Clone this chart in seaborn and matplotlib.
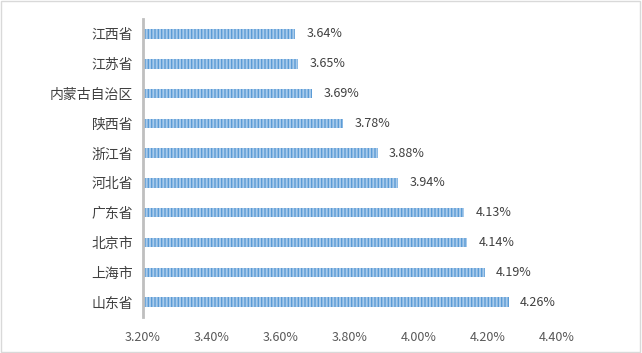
import numpy as np
import pandas as pd
import seaborn as sns
import matplotlib.pyplot as plt
from matplotlib.ticker import FuncFormatter, MultipleLocator
from matplotlib.patches import Rectangle

# =============================================================================
# Data
# =============================================================================

regions = ["江西省", "江苏省", "内蒙古自治区", "陕西省", "浙江省",
           "河北省", "广东省", "北京市", "上海市", "山东省"]
rates = [3.64, 3.65, 3.69, 3.78, 3.88, 3.94, 4.13, 4.14, 4.19, 4.26]

df = pd.DataFrame({"region": regions, "rate": rates})

# =============================================================================
# Style
# =============================================================================

sns.set_style("white")
plt.rcParams["font.family"] = ["Noto Sans CJK SC", "DejaVu Sans"]
plt.rcParams["hatch.linewidth"] = 1.0

bar_face = "#A9CBEB"
bar_stripe = "#5B9BD5"

# =============================================================================
# Plot
# =============================================================================

fig = plt.figure(figsize=(6.42, 3.53), dpi=100)
ax = fig.add_axes([0.2227, 0.102, 0.645, 0.844])

sns.barplot(
    data=df,
    x="rate",
    y="region",
    orient="h",
    color=bar_face,
    width=0.32,
    ax=ax
)

for p in ax.patches:
    p.set_facecolor(bar_face)
    p.set_edgecolor(bar_stripe)
    p.set_hatch("|||||")
    p.set_linewidth(0)

for i, v in enumerate(rates):
    ax.text(v + 0.033, i, f"{v:.2f}%", va="center", ha="left",
            fontsize=9, color="#404040")

ax.set_xlim(3.2, 4.4)
ax.set_ylim(len(regions) - 0.5, -0.5)
ax.xaxis.set_major_locator(MultipleLocator(0.2))
ax.xaxis.set_major_formatter(FuncFormatter(lambda x, pos: f"{x:.2f}%"))

ax.set_xlabel("")
ax.set_ylabel("")

for side in ["top", "right", "bottom"]:
    ax.spines[side].set_visible(False)
ax.spines["left"].set_color("#BFBFBF")
ax.spines["left"].set_linewidth(2)

ax.tick_params(axis="x", length=0, labelsize=9, labelcolor="#595959", pad=10)
ax.tick_params(axis="y", length=0, labelsize=10, labelcolor="#404040", pad=7)

# outer border of the chart area
fig.patches.append(Rectangle((0.002, 0.003), 0.995, 0.993, transform=fig.transFigure,
                             fill=False, edgecolor="#D9D9D9", linewidth=1))

fig.savefig("out.png", dpi=100)
